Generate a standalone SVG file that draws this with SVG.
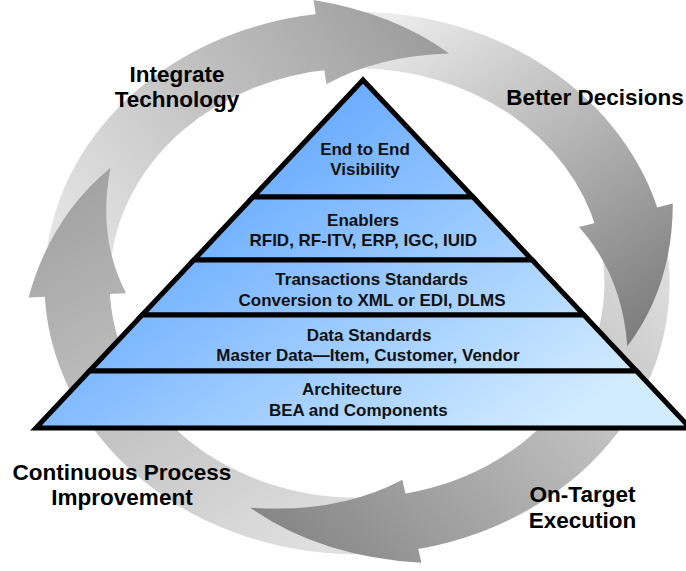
<svg xmlns="http://www.w3.org/2000/svg" width="686" height="571" viewBox="0 0 686 571">
<defs>
<style>
.lbl{font-family:"Liberation Sans",Arial,sans-serif;font-weight:bold;font-size:22.5px;fill:#000;text-anchor:middle}
.pt{font-family:"Liberation Sans",Arial,sans-serif;font-weight:bold;font-size:17px;fill:#111;text-anchor:middle}
.layer{fill:url(#pyr);stroke:#000;stroke-width:5;stroke-linejoin:miter}
</style>
<linearGradient id="pyr" gradientUnits="userSpaceOnUse" x1="250" y1="80" x2="520" y2="460">
<stop offset="0" stop-color="#5aa2ff"/><stop offset="1" stop-color="#d2ecff"/>
</linearGradient>
<linearGradient id="g1" gradientUnits="userSpaceOnUse" x1="-256.6" y1="-27" x2="84.9" y2="-243.7">
<stop offset="0" stop-color="#e4e4e4"/><stop offset="1" stop-color="#9c9c9c"/>
</linearGradient>
<linearGradient id="g2" gradientUnits="userSpaceOnUse" x1="0" y1="-258" x2="249" y2="67">
<stop offset="0" stop-color="#ececec"/><stop offset="1" stop-color="#7c7c7c"/>
</linearGradient>
<linearGradient id="g3" gradientUnits="userSpaceOnUse" x1="255.5" y1="-35.9" x2="-98.3" y2="238.5">
<stop offset="0" stop-color="#dcdcdc"/><stop offset="1" stop-color="#868686"/>
</linearGradient>
<linearGradient id="g4" gradientUnits="userSpaceOnUse" x1="9" y1="257.8" x2="-227.2" y2="-122.3">
<stop offset="0" stop-color="#e0e0e0"/><stop offset="1" stop-color="#a2a2a2"/>
</linearGradient>
</defs>
<rect width="686" height="571" fill="#fff"/>

<g id="connectors" transform="translate(357,283) scale(1.0853,0.9419)">
<g id="arrow-bodies">
<path id="arrow-top-body" fill="url(#g1)" d="M -286.42,-30.10 A 288 288 0 0 1 -28.10,-286.63 L -22.25,-226.91 A 228 228 0 0 0 -226.75,-23.83 Z"/>
<path id="arrow-right-body" fill="url(#g2)" d="M 0,-288 A 288 288 0 0 1 279.20,-70.65 L 221.03,-55.93 A 228 228 0 0 0 0,-228 Z"/>
<path id="arrow-bottom-body" fill="url(#g3)" d="M 285.20,-40.08 A 288 288 0 0 1 46.54,284.22 L 36.84,225.00 A 228 228 0 0 0 225.78,-31.73 Z"/>
<path id="arrow-left-body" fill="url(#g4)" d="M 10.05,287.82 A 288 288 0 0 1 -287.97,4.52 L -227.97,3.58 A 228 228 0 0 0 7.96,227.86 Z"/>
</g>
<g id="arrow-heads">
<path id="arrow-top-head" fill="url(#g1)" d="M -40.07,-300.34 Q 34.31,-286.12 84.85,-243.65 Q 19.26,-241.19 -28.17,-211.13 Z"/>
<path id="arrow-right-head" fill="url(#g2)" d="M 290.97,-84.53 Q 290.95,3.28 249.09,67.21 Q 244.17,-8.42 204.54,-59.42 Z"/>
<path id="arrow-bottom-head" fill="url(#g3)" d="M 59.37,297.12 Q -34.79,290.54 -98.32,238.53 Q -17.27,245.10 41.74,208.87 Z"/>
<path id="arrow-left-head" fill="url(#g4)" d="M -302.61,15.33 Q -282.40,-69.85 -227.16,-122.32 Q -239.54,-47.77 -212.73,10.78 Z"/>
</g>
</g>

<g id="pyramid">
<g id="layer-visibility">
<polygon class="layer" points="363,80 473,197 253,197"/>
<text class="pt" x="365" y="155">End to End</text>
<text class="pt" x="365" y="174.5">Visibility</text>
</g>
<g id="layer-enablers">
<polygon class="layer" points="253,197 473,197 532.2,260 193.8,260"/>
<text class="pt" x="363" y="226">Enablers</text>
<text class="pt" x="363.3" y="246">RFID, RF-ITV, ERP, IGC, IUID</text>
</g>
<g id="layer-transactions">
<polygon class="layer" points="193.8,260 532.2,260 583.9,315 142.1,315"/>
<text class="pt" x="371.7" y="284.5">Transactions Standards</text>
<text class="pt" x="372" y="306">Conversion to XML or EDI, DLMS</text>
</g>
<g id="layer-data">
<polygon class="layer" points="142.1,315 583.9,315 636.5,371 89.5,371"/>
<text class="pt" x="369" y="340.5">Data Standards</text>
<text class="pt" x="368" y="361">Master Data—Item, Customer, Vendor</text>
</g>
<g id="layer-architecture">
<polygon class="layer" points="89.5,371 636.5,371 690.1,428 35.9,428"/>
<text class="pt" x="352" y="395">Architecture</text>
<text class="pt" x="358.3" y="415.5">BEA and Components</text>
</g>
</g>

<g id="label-integrate">
<text class="lbl" x="177" y="82">Integrate</text>
<text class="lbl" x="177" y="107">Technology</text>
</g>
<g id="label-better-decisions">
<text class="lbl" x="595" y="105">Better Decisions</text>
</g>
<g id="label-continuous">
<text class="lbl" x="122" y="480">Continuous Process</text>
<text class="lbl" x="122" y="504.5">Improvement</text>
</g>
<g id="label-on-target">
<text class="lbl" x="582.5" y="502">On-Target</text>
<text class="lbl" x="582.5" y="528">Execution</text>
</g>
</svg>
